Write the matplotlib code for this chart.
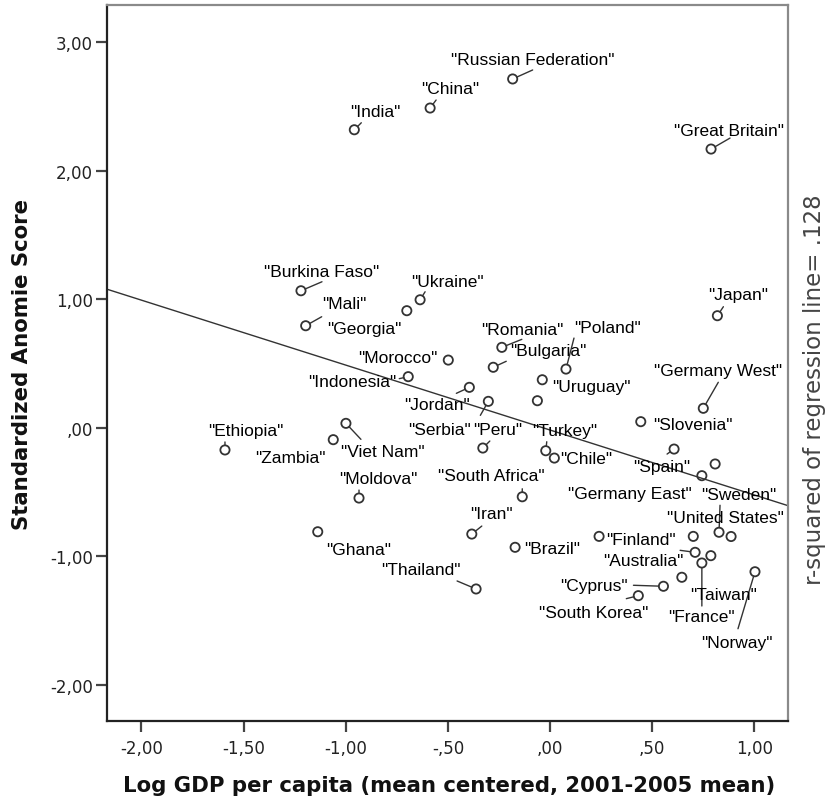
import numpy as np
import matplotlib
matplotlib.use("Agg")
import matplotlib.pyplot as plt
from matplotlib.ticker import FuncFormatter, MultipleLocator

# country scores: log GDP (mean centered) vs standardized anomie
countries = [
    "Russian Federation", "China", "India", "Great Britain", "Burkina Faso",
    "Mali", "Georgia", "Ukraine", "Japan", "Morocco", "Indonesia", "Jordan",
    "Romania", "Bulgaria", "Poland", "Uruguay", "Serbia", "", "Peru",
    "Turkey", "Chile", "Germany West", "Slovenia", "Spain", "",
    "Germany East", "Ethiopia", "Zambia", "Viet Nam", "Moldova", "Ghana",
    "South Africa", "Iran", "Brazil", "Thailand", "Finland", "Sweden",
    "United States", "", "Australia", "", "France", "Taiwan", "Norway",
    "Cyprus", "South Korea",
]
log_gdp = [
    -0.183, -0.587, -0.958, 0.788, -1.219,
    -1.196, -0.701, -0.636, 0.819, -0.498, -0.694, -0.395,
    -0.236, -0.278, 0.078, -0.038, -0.302, -0.062, -0.329,
    -0.021, 0.021, 0.750, 0.444, 0.607, 0.808,
    0.743, -1.591, -1.061, -0.999, -0.935, -1.137,
    -0.136, -0.383, -0.171, -0.362, 0.240, 0.827,
    0.886, 0.701, 0.710, 0.787, 0.743, 0.645, 1.003,
    0.555, 0.432,
]
anomie = [
    2.712, 2.486, 2.317, 2.167, 1.065,
    0.793, 0.910, 0.995, 0.871, 0.526, 0.397, 0.314,
    0.625, 0.470, 0.456, 0.373, 0.205, 0.210, -0.158,
    -0.179, -0.236, 0.151, 0.047, -0.166, -0.282,
    -0.373, -0.173, -0.093, 0.034, -0.547, -0.809,
    -0.537, -0.827, -0.930, -1.254, -0.845, -0.813,
    -0.846, -0.845, -0.969, -0.995, -1.052, -1.163, -1.120,
    -1.233, -1.306,
]

# fitted line
reg_intercept = -0.018
reg_slope = -0.505
r_squared = ".128"

# label placement in pixels relative to the point (text centre, leader end)
label_offsets = [
    (20, -19), (20, -20), (21, -18), (18, -19), (21, -19),
    (39, -22), (-43, 18), (27, -18), (21, -21), (-50, -3), (-56, 5), (-32, 17),
    (20, -18), (55, -17), (42, -42), (49, 7), (-49, 28), None, (15, -19),
    (19, -20), (32, 0), (15, -38), (52, 3), (-12, 17), None,
    (-72, 18), (21, -19), (-43, 18), (37, 28), (19, -20), (41, 18),
    (-31, -21), (20, -21), (37, 1), (-55, -19), (42, 3), (20, -38),
    (-6, -19), None, (-52, 8), None, (0, 54), (42, 17), (-18, 71),
    (-70, -1), (-45, 17),
]
leader_ends = {
    "Russian Federation": (20, -9), "China": (6, -8), "India": (7, -7),
    "Great Britain": (19, -11), "Burkina Faso": (21, -9), "Mali": (16, -9),
    "Ukraine": (5, -8), "Japan": (6, -9), "Jordan": (-13, 6),
    "Romania": (20, -8), "Bulgaria": (13, -6), "Poland": (8, -31),
    "Serbia": (-8, 14), "Peru": (7, -7), "Turkey": (1, -9),
    "Germany West": (15, -26), "Spain": (-7, 5), "Ethiopia": (0, -8),
    "Viet Nam": (15, 16), "Moldova": (0, -8), "South Africa": (0, -8),
    "Iran": (10, -8), "Thailand": (-19, -8), "Sweden": (1, -27),
    "Australia": (-15, -2), "France": (0, 43), "Norway": (-17, 57),
    "Cyprus": (-30, -1), "South Korea": (-12, 3), "Indonesia": (-9, 2),
}

PX = 0.72  # pixel -> point at 100 dpi
ink = "#333333"

fig = plt.figure(figsize=(8.25, 8.03), dpi=100)
ax = fig.add_axes([0.1293, 0.1005, 0.8262, 0.892])

xlim = (-2.17, 1.166)
ax.set_xlim(*xlim)
ax.set_ylim(-2.283, 3.287)

xs = np.array(xlim)
ax.plot(xs, reg_intercept + reg_slope * xs, color=ink, lw=1.0, zorder=2)

ax.scatter(log_gdp, anomie, s=44, facecolors="none", edgecolors=ink,
           linewidths=1.3, zorder=3)

for name, x, y, off in zip(countries, log_gdp, anomie, label_offsets):
    if not name or off is None:
        continue
    ax.annotate(f'"{name}"', xy=(x, y), xytext=(off[0] * PX, -off[1] * PX),
                textcoords="offset points", ha="center", va="center",
                fontsize=12.5, family="Liberation Sans", color="#000000",
                zorder=4)
    if name in leader_ends:
        lx, ly = leader_ends[name]
        ax.annotate("", xy=(x, y), xytext=(lx * PX, -ly * PX),
                    textcoords="offset points",
                    arrowprops=dict(arrowstyle="-", color=ink, lw=1.0,
                                    shrinkA=0, shrinkB=3.3),
                    zorder=3)


def comma_fmt(v, pos):
    s = f"{abs(v):.2f}".replace(".", ",")
    if s.startswith("0"):
        s = s[1:]
    return ("-" if v < -1e-9 else "") + s


ax.xaxis.set_major_locator(MultipleLocator(0.5))
ax.yaxis.set_major_locator(MultipleLocator(1.0))
ax.xaxis.set_major_formatter(FuncFormatter(comma_fmt))
ax.yaxis.set_major_formatter(FuncFormatter(comma_fmt))
ax.tick_params(direction="out", length=8, width=1.6, color="#444444",
               labelsize=12, labelcolor="#222222", top=False, right=False)
ax.tick_params(axis="x", pad=5)
ax.tick_params(axis="y", pad=2)
for lab in ax.get_xticklabels() + ax.get_yticklabels():
    lab.set_family("DejaVu Sans")

for side in ("left", "bottom"):
    ax.spines[side].set_color("#222222")
    ax.spines[side].set_linewidth(1.6)
for side in ("top", "right"):
    ax.spines[side].set_color("#8a8a8a")
    ax.spines[side].set_linewidth(1.6)

fig.text(449 / 825, 1 - 786 / 803,
         "Log GDP per capita (mean centered, 2001-2005 mean)",
         ha="center", va="center", fontsize=15.3, fontweight="bold",
         family="DejaVu Sans", color="#111111")
fig.text(22.5 / 825, 1 - 364 / 803, "Standardized Anomie Score",
         ha="center", va="center", rotation=90, fontsize=15.3,
         fontweight="bold", family="DejaVu Sans", color="#111111")
fig.text(815 / 825, 1 - 390 / 803,
         f"r-squared of regression line= {r_squared}",
         ha="center", va="center", rotation=90, fontsize=16.5,
         family="DejaVu Sans", color="#444444")

fig.savefig("out.png", dpi=100)
